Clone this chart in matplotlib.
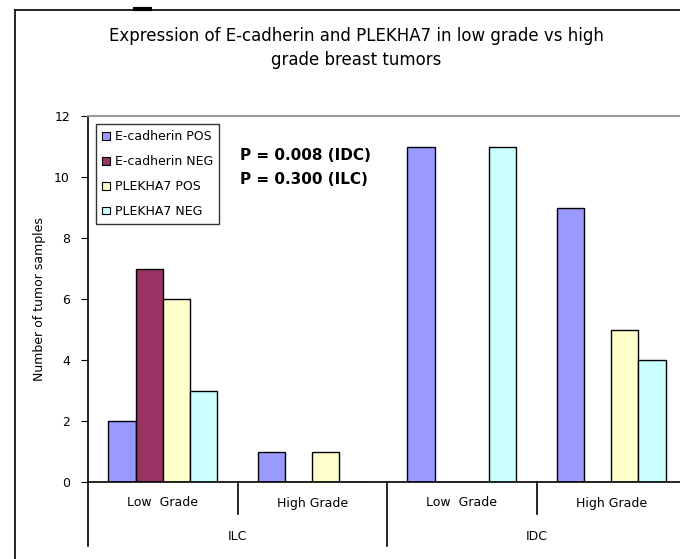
import matplotlib
matplotlib.use('Agg')
import matplotlib.pyplot as plt
import matplotlib.transforms as mtransforms
from matplotlib.lines import Line2D
from matplotlib.patches import Patch
import numpy as np

plt.rcParams['font.family'] = ['DejaVu Sans']

# grades within each tumour type
grades = ['Low  Grade', 'High Grade', 'Low  Grade', 'High Grade']
tumor_types = ['ILC', 'IDC']
series = ['E-cadherin POS', 'E-cadherin NEG', 'PLEKHA7 POS', 'PLEKHA7 NEG']
ecad_pos = [2, 1, 11, 9]
ecad_neg = [7, 0, 0, 0]
plek_pos = [6, 1, 0, 5]
plek_neg = [3, 0, 11, 4]
colors = ['#9999FF', '#993366', '#FFFFCC', '#CCFFFF']

W, H = 680, 559
fig = plt.figure(figsize=(W / 100, H / 100), dpi=100)

# plot area in pixel terms
x0, x1 = 88, 686
y_top, y_base = 116, 482
ax = fig.add_axes([x0 / W, 1 - y_base / H, (x1 - x0) / W, (y_base - y_top) / H])
ax_h = y_base - y_top

n_ser = 4
bw = 1 / (n_ser + 1.5)
xc = np.arange(len(grades))
for i, (vals, c, lab) in enumerate(zip([ecad_pos, ecad_neg, plek_pos, plek_neg], colors, series)):
    left = xc + 0.75 * bw + i * bw
    ax.bar(left, vals, width=bw, align='edge', color=c, edgecolor='black', linewidth=1, label=lab)

ax.set_xlim(0, len(grades))
ax.set_ylim(0, 12)
ax.set_yticks(range(0, 13, 2))
ax.tick_params(axis='y', direction='out', length=5, labelsize=9, pad=8)
ax.set_xticks([])
ax.spines['right'].set_visible(False)
ax.spines['top'].set_color('#999999')
ax.spines['top'].set_linewidth(1.5)
ax.spines['left'].set_linewidth(1.2)
ax.spines['bottom'].set_linewidth(1.2)
ax.set_ylabel('Number of tumor samples', fontsize=9, labelpad=6)

# two-level category axis below the plot
tr = mtransforms.blended_transform_factory(ax.transData, ax.transAxes)
sep_short = -32 / ax_h
sep_long = -64 / ax_h
for k in range(len(grades)):
    depth = sep_long if k % 2 == 0 else sep_short
    ax.add_line(Line2D([k, k], [0, depth], transform=tr, color='black', lw=1.2, clip_on=False))
    ax.text(k + 0.5, -21 / ax_h, grades[k], transform=tr, ha='center', va='center', fontsize=9)
for j, t in enumerate(tumor_types):
    ax.text(2 * j + 1, -55 / ax_h, t, transform=tr, ha='center', va='center', fontsize=9)

ax.text(x=(240 - x0) / (x1 - x0), y=(y_base - 155) / ax_h, s='P = 0.008 (IDC)',
        transform=ax.transAxes, fontsize=11, fontweight='bold', va='center')
ax.text(x=(240 - x0) / (x1 - x0), y=(y_base - 179) / ax_h, s='P = 0.300 (ILC)',
        transform=ax.transAxes, fontsize=11, fontweight='bold', va='center')

handles = [Patch(facecolor=c, edgecolor='black', lw=0.8) for c in colors]
leg = fig.legend(handles, series, loc='upper left', bbox_to_anchor=(96 / W, 1 - 124 / H),
                 frameon=True, fancybox=False, edgecolor='black', fontsize=9,
                 handlelength=0.6, handleheight=0.6, handletextpad=0.4,
                 labelspacing=0.95, borderpad=0.5, borderaxespad=0)
leg.get_frame().set_linewidth(1.0)

fig.text(356 / W, 1 - 36 / H, 'Expression of E-cadherin and PLEKHA7 in low grade vs high',
         ha='center', va='center', fontsize=12)
fig.text(356 / W, 1 - 60 / H, 'grade breast tumors', ha='center', va='center', fontsize=12)

# outer chart border
fig.add_artist(Line2D([15 / W, 15 / W], [0, 1 - 10 / H], transform=fig.transFigure, color='black', lw=1.2))
fig.add_artist(Line2D([15 / W, 1], [1 - 10 / H, 1 - 10 / H], transform=fig.transFigure, color='black', lw=1.2))
fig.add_artist(Line2D([135 / W, 150 / W], [1 - 9 / H, 1 - 9 / H], transform=fig.transFigure, color='black', lw=3))

fig.savefig('out.png', dpi=100)
